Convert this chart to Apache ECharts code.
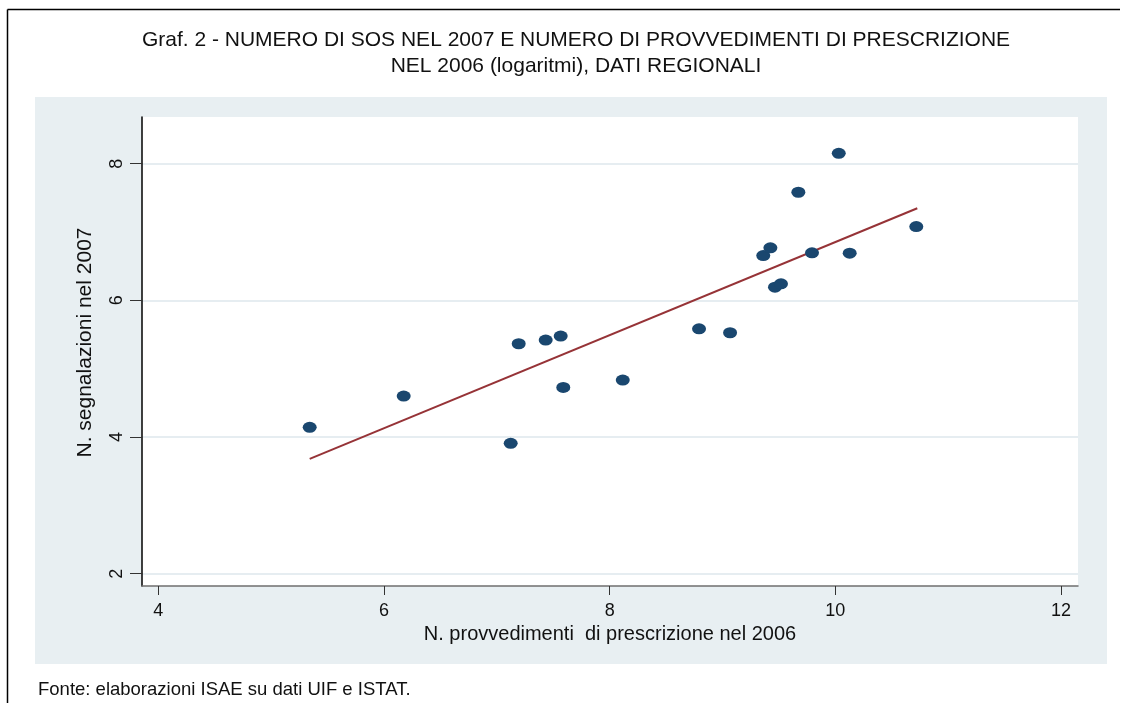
<!DOCTYPE html>
<html>
<head>
<meta charset="utf-8">
<script src="https://cdn.jsdelivr.net/npm/echarts@6/dist/echarts.min.js"></script>
<style>
html,body{margin:0;padding:0;background:#fff;}
#chart{width:1124px;height:703px;}
</style>
</head>
<body>
<div id="chart"></div>
<script>
// Regional data (logarithms)
const xProvvedimenti = [5.342, 6.175, 7.123, 7.194, 7.433, 7.566, 7.589, 8.116, 8.792, 9.067, 9.361, 9.424, 9.465, 9.518, 9.672, 9.793, 10.030, 10.127, 10.717];
const ySegnalazioni  = [4.142, 4.600, 3.908, 5.365, 5.419, 5.477, 4.726, 4.834, 5.584, 5.526, 6.655, 6.768, 6.193, 6.242, 7.582, 6.695, 8.152, 6.690, 7.079];
const fitLineX = [5.342, 10.726];
const fitLineY = [3.680, 7.348];
const xTicks = [4, 6, 8, 10, 12];
const yTicks = [2, 4, 6, 8];

const titleText = 'Graf. 2 - NUMERO DI SOS NEL 2007 E NUMERO DI PROVVEDIMENTI DI PRESCRIZIONE\nNEL 2006 (logaritmi), DATI REGIONALI';
const xName = 'N. provvedimenti  di prescrizione nel 2006';
const yName = 'N. segnalazioni nel 2007';
const sourceText = 'Fonte: elaborazioni ISAE su dati UIF e ISTAT.';

const points = xProvvedimenti.map((x, i) => [x, ySegnalazioni[i]]);
const fitLine = fitLineX.map((x, i) => [x, fitLineY[i]]);

const FONT = '"Liberation Sans", Arial, sans-serif';
const chart = echarts.init(document.getElementById('chart'), null, {renderer: 'canvas'});
chart.setOption({
  animation: false,
  backgroundColor: '#ffffff',
  title: {
    text: titleText,
    left: 571,
    top: 22,
    textAlign: 'center',
    textStyle: {fontFamily: FONT, fontSize: 21, fontWeight: 'normal', color: '#111', lineHeight: 26}
  },
  graphic: [
    {type: 'rect', z: -10, shape: {x: 35, y: 97, width: 1072, height: 567}, style: {fill: '#e8eff2'}},
    {type: 'line', z: 10, shape: {x1: 7.5, y1: 9.5, x2: 1120, y2: 9.5}, style: {stroke: '#000', lineWidth: 1.5}},
    {type: 'line', z: 10, shape: {x1: 7.5, y1: 9.5, x2: 7.5, y2: 703}, style: {stroke: '#000', lineWidth: 1.5}},
    {type: 'text', z: 10, left: 38, top: 680, style: {text: sourceText, fontFamily: FONT, fontSize: 18.5, fill: '#111'}}
  ],
  grid: {
    left: 142, top: 117, right: 46, bottom: 117,
    show: true, backgroundColor: '#ffffff', borderWidth: 0
  },
  xAxis: {
    type: 'value',
    min: 3.856, max: 12.15,
    interval: 2,
    name: xName,
    nameLocation: 'middle',
    nameGap: 38,
    nameTextStyle: {fontFamily: FONT, fontSize: 20, color: '#111'},
    axisLine: {show: true, onZero: false, lineStyle: {color: '#6f6f6f', width: 1.5}},
    axisTick: {show: true, length: 9, lineStyle: {color: '#333', width: 1}, customValues: xTicks},
    axisLabel: {fontFamily: FONT, fontSize: 18, color: '#111', margin: 16, customValues: xTicks},
    splitLine: {show: false}
  },
  yAxis: {
    type: 'value',
    min: 1.82, max: 8.683,
    name: yName,
    nameLocation: 'middle',
    nameGap: 46,
    nameRotate: 90,
    nameTextStyle: {fontFamily: FONT, fontSize: 21, color: '#111', padding: [0, 0, 0, 18]},
    axisLine: {show: true, onZero: false, lineStyle: {color: '#000', width: 1.5}},
    axisTick: {show: true, length: 12, lineStyle: {color: '#333', width: 1}, customValues: yTicks},
    axisLabel: {fontFamily: FONT, fontSize: 18, color: '#111', margin: 16, rotate: 90, customValues: yTicks},
    splitLine: {show: true, lineStyle: {color: '#e6edf1', width: 2}},
    interval: 2
  },
  series: [
    {
      type: 'line',
      data: fitLine,
      showSymbol: false,
      symbol: 'none',
      lineStyle: {color: '#963337', width: 2},
      z: 2
    },
    {
      type: 'scatter',
      data: points,
      symbol: 'circle',
      symbolSize: [14, 11],
      itemStyle: {color: '#1a476f', opacity: 1},
      z: 3
    }
  ]
});
</script>
</body>
</html>
